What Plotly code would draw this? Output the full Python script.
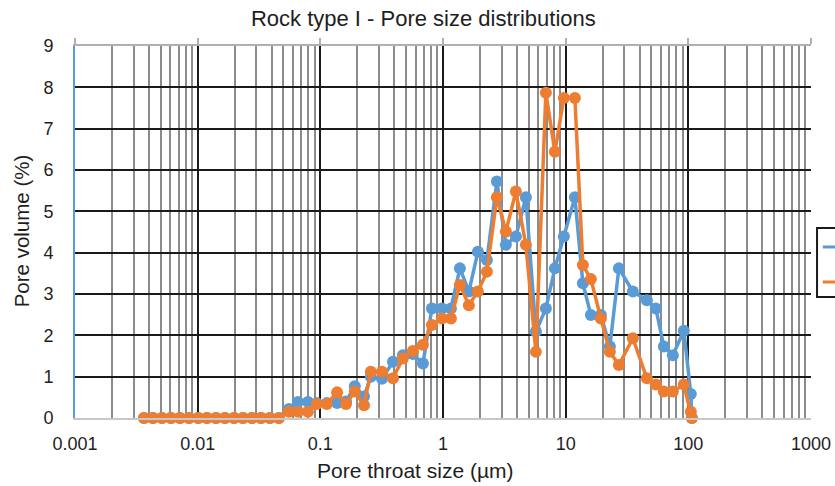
import plotly.graph_objects as go

# Pore throat size (um)
pore_size = [0.00365, 0.00432, 0.00512, 0.00606, 0.00717, 0.0085, 0.0101, 0.0119,
             0.0141, 0.0167, 0.0198, 0.0234, 0.0277, 0.0328, 0.0388, 0.046,
             0.0555, 0.0657, 0.0792, 0.0938, 0.113, 0.137, 0.162, 0.191, 0.227,
             0.258, 0.318, 0.391, 0.471, 0.568, 0.686, 0.812, 0.98, 1.16, 1.373,
             1.626, 1.925, 2.28, 2.75, 3.255, 3.928, 4.739, 5.717, 6.897, 8.166,
             9.667, 11.89, 13.81, 16.05, 19.36, 22.93, 27.14, 35.29, 45.9, 54.33,
             63.14, 74.75, 91.91, 104.8, 106.8]

# Pore volume (%) - series 1 (blue)
series_blue = [0, 0, 0, 0, 0, 0, 0, 0, 0, 0, 0, 0, 0, 0, 0, 0,
               0.22, 0.39, 0.39, 0.36, 0.36, 0.36, 0.4, 0.77, 0.52,
               1.0, 0.95, 1.36, 1.52, 1.55, 1.32, 2.65, 2.65, 2.65, 3.62,
               3.06, 4.02, 3.82, 5.72, 4.19, 4.39, 5.34, 2.09, 2.65, 3.62,
               4.39, 5.34, 3.26, 2.49, 2.49, 1.73, 3.62, 3.06, 2.85, 2.65,
               1.73, 1.52, 2.11, 0.58, 0]

# Pore volume (%) - series 2 (orange)
series_orange = [0, 0, 0, 0, 0, 0, 0, 0, 0, 0, 0, 0, 0, 0, 0, 0,
                 0.15, 0.15, 0.15, 0.34, 0.34, 0.62, 0.34, 0.64, 0.31,
                 1.12, 1.12, 0.96, 1.44, 1.62, 1.77, 2.25, 2.41, 2.41, 3.22,
                 2.73, 3.06, 3.54, 5.34, 4.51, 5.48, 4.19, 1.6, 7.87, 6.44,
                 7.74, 7.74, 3.7, 3.36, 2.41, 1.6, 1.28, 1.93, 0.96, 0.81,
                 0.64, 0.64, 0.81, 0.15, 0]

x_tick_vals = [0.001, 0.01, 0.1, 1, 10, 100, 1000]
x_tick_text = ["0.001", "0.01", "0.1", "1", "10", "100", "1000"]
y_tick_vals = [0, 1, 2, 3, 4, 5, 6, 7, 8, 9]

BLUE = "#5B9BD5"
ORANGE = "#ED7D31"
FONT = "Liberation Sans, Arial, sans-serif"
TXT = "#1e1e1e"

minor_vals = [m * d for d in x_tick_vals[:-1] for m in range(2, 10)]

fig = go.Figure()
fig.add_trace(go.Scatter(x=pore_size, y=series_blue, mode="lines+markers",
                         name="Series 1", line=dict(color=BLUE, width=3.5),
                         marker=dict(color=BLUE, size=12), cliponaxis=False))
fig.add_trace(go.Scatter(x=pore_size, y=series_orange, mode="lines+markers",
                         name="Series 2", line=dict(color=ORANGE, width=3.5),
                         marker=dict(color=ORANGE, size=12), cliponaxis=False))
# invisible helper trace so the top (secondary) axis is drawn
fig.add_trace(go.Scatter(x=[x_tick_vals[0]], y=[y_tick_vals[0]], xaxis="x2", mode="markers",
                         marker=dict(opacity=0), hoverinfo="skip", showlegend=False))

fig.update_layout(
    width=835, height=486,
    margin=dict(l=75, r=24, t=46, b=68, autoexpand=False),
    paper_bgcolor="white", plot_bgcolor="white",
    showlegend=False,
    font=dict(family=FONT, color=TXT),
    title=dict(text="Rock type I - Pore size distributions", x=0.507, xanchor="center",
               y=0.962, yanchor="middle", font=dict(size=22, family=FONT, color=TXT)),
    xaxis=dict(type="log", range=[-3, 3], tickvals=x_tick_vals, ticktext=x_tick_text,
               showgrid=True, gridcolor="#1a1a1a", gridwidth=2,
               minor=dict(tickvals=minor_vals, showgrid=True, gridcolor="#8c8c8c", gridwidth=2),
               showline=True, linecolor="#c8c8c8", linewidth=2, zeroline=False,
               ticks="outside", ticklen=8, tickcolor="rgba(0,0,0,0)",
               tickfont=dict(size=18, family=FONT, color=TXT)),
    xaxis2=dict(type="log", range=[-3, 3], overlaying="x", side="top",
                tickvals=x_tick_vals, showticklabels=False, showgrid=False,
                showline=True, linecolor="#b0b0b0", linewidth=2, zeroline=False,
                ticks="outside", ticklen=6, tickcolor="#b0b0b0", tickwidth=2),
    yaxis=dict(range=[0, 9], tickvals=y_tick_vals, showgrid=True, gridcolor="#1a1a1a",
               gridwidth=2, zeroline=False, showline=True, linecolor=BLUE, linewidth=2,
               ticks="outside", ticklen=16, tickcolor="rgba(0,0,0,0)",
               tickfont=dict(size=18, family=FONT, color=TXT)),
)

# Axis titles as annotations (positioned like the reference)
fig.add_annotation(text="Pore throat size (µm)", xref="paper", yref="paper",
                   x=0.463, y=-0.1398, xanchor="center", yanchor="middle", showarrow=False,
                   font=dict(size=21, family=FONT, color=TXT))
fig.add_annotation(text="Pore volume (%)", xref="paper", yref="paper", textangle=-90,
                   x=-0.0715, y=0.5027, xanchor="center", yanchor="middle", showarrow=False,
                   font=dict(size=20.5, family=FONT, color=TXT))

# Legend box (clipped at the right edge as in the reference)
fig.add_shape(type="rect", xref="paper", yref="paper", x0=1.0082, x1=1.2, y0=0.3253, y1=0.5108,
              line=dict(color="#1a1a1a", width=2), fillcolor="white", layer="above")
fig.add_shape(type="line", xref="paper", yref="paper", x0=1.016, x1=1.2, y0=0.4597, y1=0.4597,
              line=dict(color=BLUE, width=3), layer="above")
fig.add_shape(type="line", xref="paper", yref="paper", x0=1.016, x1=1.2, y0=0.3656, y1=0.3656,
              line=dict(color=ORANGE, width=3), layer="above")

fig.write_html("out.html")
